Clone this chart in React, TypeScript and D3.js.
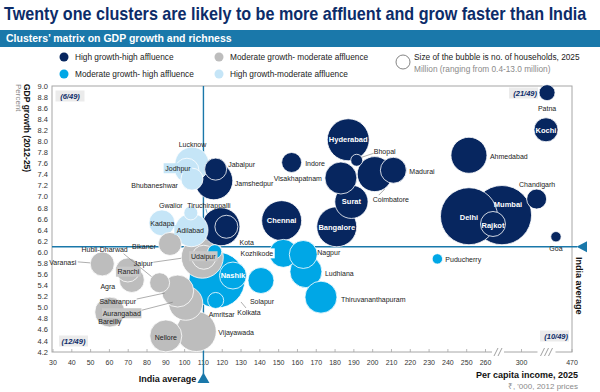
import React, { useLayoutEffect, useRef, useState } from "react";
import * as d3 from "d3";

// ---------------- DATA ----------------
const names = [
  // High growth-high affluence (21)
  "Patna", "Kochi", "Ahmedabad", "Chandigarh", "Delhi", "Mumbai", "Rajkot", "Goa",
  "Hyderabad", "Bhopal", "Visakhapatnam", "Coimbatore", "Madurai", "Surat", "Bangalore",
  "Chennai", "Indore", "Jabalpur", "Jamshedpur", "Tiruchirappalli", "",
  // Moderate growth-high affluence (10)
  "Kolkata", "Nashik", "Amritsar", "Solapur", "Kota", "Kozhikode", "Nagpur", "Ludhiana",
  "Thiruvananthapuram", "Puducherry",
  // High growth-moderate affluence (6)
  "Lucknow", "Jodhpur", "Bhubaneshwar", "Gwalior", "Kadapa", "Adilabad",
  // Moderate growth-moderate affluence (12)
  "Varanasi", "Hubli-Dharwad", "Bikaner", "Jaipur", "Udaipur", "Ranchi", "Agra",
  "Saharanpur", "Aurangabad", "Bareilly", "Nellore", "Vijayawada",
];

const segment = [
  ...Array(21).fill("HH"),
  ...Array(10).fill("MH"),
  ...Array(6).fill("HM"),
  ...Array(12).fill("MM"),
];

// Per capita income 2025, Rs '000 (2012 prices)
const income = [
  386, 382.5, 251.2, 351, 251.2, 278.3, 268.3, 416,
  187, 191.5, 183.1, 201.1, 211, 188.7, 180.9,
  151.6, 156.9, 116.5, 115.5, 119.3, 122.2,
  117.2, 125.7, 116.5, 140.6, 116, 152.5, 163.1, 164.5, 172.5, 234.4,
  103.9, 101.2, 103.9, 103.3, 87.9, 103.6,
  56.2, 86.7, 92.2, 109.4, 110.2, 69.8, 71.9, 96.3, 100.6, 60.2, 90, 106.2,
];

// GDP growth 2012-25, percent
const growth = [
  8.88, 8.21, 7.75, 6.96, 6.65, 6.67, 6.51, 6.28,
  8.03, 7.66, 7.34, 7.41, 7.48, 6.91, 6.46,
  6.57, 7.62, 7.5, 7.29, 6.46, 6.46,
  5.5, 5.58, 5.13, 5.49, 6.01, 5.98, 5.96, 5.65, 5.19, 5.88,
  7.59, 7.48, 7.32, 6.71, 6.53, 6.4,
  5.79, 5.45, 6.15, 5.91, 5.91, 5.68, 5.5, 5.3, 5.08, 4.92, 4.49, 4.57,
];

// Households 2025, million
const households = [
  0.95, 2.14, 4.81, 1.48, 12.05, 13.0, 2.32, 0.4,
  6.54, 0.53, 3.8, 4.54, 2.5, 4.1, 5.93,
  5.93, 1.48, 1.8, 5.36, 5.36, 1.96,
  11.6, 2.7, 0.95, 2.5, 0.73, 2.9, 2.9, 3.8, 3.8, 0.4,
  4.3, 2.14, 1.8, 0.73, 2.5, 4.1,
  2.14, 1.48, 1.96, 6.54, 2.14, 2.14, 2.32, 3.8, 4.3, 3.34, 3.8, 5.93,
];

const indiaIncome = 110;
const indiaGrowth = 6.1;

const xTicks = [30, 40, 50, 60, 70, 80, 90, 100, 110, 120, 130, 140, 150, 160, 170, 180, 190, 200, 210, 220, 230, 240, 250, 260, 300, 470];
const yTicks = [4.2, 4.4, 4.6, 4.8, 5.0, 5.2, 5.4, 5.6, 5.8, 6.0, 6.2, 6.4, 6.6, 6.8, 7.0, 7.2, 7.4, 7.6, 7.8, 8.0, 8.2, 8.4, 8.6, 8.8, 9.0];

const segmentKeys = ["HH", "MM", "MH", "HM"];
const segmentLabels: Record<string, string> = {
  HH: "High growth-high affluence",
  MM: "Moderate growth- moderate affluence",
  MH: "Moderate growth- high affluence",
  HM: "High growth-moderate affluence",
};
const quadrantCounts = ["(6/49)", "(21/49)", "(12/49)", "(10/49)"];
const TITLE = "Twenty one clusters are likely to be more affluent and grow faster than India";

// ---------------- STYLE / LAYOUT ----------------
const COLORS: Record<string, string> = {
  HH: "#07265f",
  MH: "#00a7e6",
  HM: "#c5e5f7",
  MM: "#bdbdbd",
};
const NAVY = "#0c2c69";
const TEAL = "#1a78aa";
const FONT = "'Liberation Sans', Arial, sans-serif";

// label placement: [dx, dy, anchor, kind]
type LP = [number, number, string, string];
const labelPos: Record<string, LP> = {
  Patna: [0, 15.5, "middle", "t"],
  Kochi: [0, 0.5, "middle", "in"],
  Ahmedabad: [21, 1, "start", "t"],
  Chandigarh: [0.5, -15, "middle", "t"],
  Delhi: [0, 1, "middle", "in"],
  Mumbai: [6, -11, "middle", "in"],
  Rajkot: [0, 1, "middle", "in"],
  Goa: [0, 12, "middle", "t"],
  Hyderabad: [0, 0, "middle", "in"],
  Bhopal: [28, -9, "middle", "t"],
  Visakhapatnam: [-19, 1, "end", "t"],
  Coimbatore: [-2, 25.5, "start", "t"],
  Madurai: [16, 1, "start", "t"],
  Surat: [0, 0, "middle", "in"],
  Bangalore: [0, 1, "middle", "in"],
  Chennai: [0, 0, "middle", "in"],
  Indore: [13.5, 1, "start", "t"],
  Jabalpur: [12.5, -5, "start", "t"],
  Jamshedpur: [21, 3, "start", "t"],
  Tiruchirappalli: [-12, -21, "middle", "t"],
  Kolkata: [32, 33, "middle", "t"],
  Nashik: [0, 0, "middle", "in"],
  Amritsar: [6, 14.5, "middle", "t"],
  Solapur: [1, 21, "middle", "t"],
  Kota: [32, -9, "middle", "t"],
  Kozhikode: [-26.5, 0, "middle", "bgW"],
  Nagpur: [14, -2, "start", "t"],
  Ludhiana: [19, 1.5, "start", "t"],
  Thiruvananthapuram: [20, 2, "start", "t"],
  Puducherry: [8, 0.5, "start", "t"],
  Lucknow: [0.5, -20, "middle", "t"],
  Jodhpur: [-9, -2, "middle", "bgL"],
  Bhubaneshwar: [-14, 6, "end", "t"],
  Gwalior: [-20, -7, "middle", "t"],
  Kadapa: [0.5, 1, "middle", "t"],
  Adilabad: [-1, 0, "middle", "bgL"],
  Varanasi: [-26, -1.7, "end", "t"],
  "Hubli-Dharwad": [-55, -33, "middle", "t"],
  Bikaner: [-26, 3, "middle", "t"],
  Jaipur: [-59, 6, "middle", "t"],
  Udaipur: [-0.5, -1, "middle", "bgG"],
  Ranchi: [0.5, 1.7, "middle", "bgG"],
  Agra: [-24, 7, "middle", "t"],
  Saharanpur: [-60, 11, "middle", "t"],
  Aurangabad: [-64, 10, "middle", "bgG"],
  Bareilly: [0, 9, "middle", "t"],
  Nellore: [0, 1.5, "middle", "t"],
  Vijayawada: [22, 1.5, "start", "t"],
};

// leader lines relative to bubble centre: [x1, y1, x2, y2]
const leaders: Record<string, number[]> = {
  Bhopal: [5, -3, 17, -7],
  Coimbatore: [10, 15, 4, 21],
  Kolkata: [24, 22, 29, 28],
  Varanasi: [-24.5, -2, -12, -1],
  "Hubli-Dharwad": [-36, -29, -8, -6],
  Jaipur: [-49, 5, -21, 1],
  Saharanpur: [-41, 8, -13, 2],
  Aurangabad: [-44, 7, -13, -1],
  Tiruchirappalli: [-15, -18, -14, -14],
};

export default function App() {
  const W = 600;
  const H = 392;
  const L = 52, R = 572, T = 86, B = 352;

  const titleRef = useRef<SVGTextElement>(null);
  const [titleScale, setTitleScale] = useState(1);
  useLayoutEffect(() => {
    if (titleRef.current) {
      const len = titleRef.current.getComputedTextLength();
      if (len > 0) setTitleScale(Math.min(1, 583 / len));
    }
  }, []);

  const x = d3.scaleLinear().domain([30, 260, 300, 470]).range([53, 485.5, 521.5, 572]);
  const y = d3.scaleLinear().domain([4.2, 9.0]).range([B, T]);
  const r = d3.scaleSqrt().domain([0, 13]).range([0, 29.6]);

  const order = d3.range(names.length).sort((a, b) => households[b] - households[a]);

  const xi = x(indiaIncome);
  const yi = y(indiaGrowth);

  const labelFs = 7;

  return (
    <svg width={W} height={H} viewBox={`0 0 ${W} ${H}`}
      style={{ position: "absolute", left: 0, top: 0, background: "#fff" }}
      fontFamily={FONT}>
      {/* Title */}
      <g transform={`translate(4,20) scale(${titleScale},1)`}>
        <text ref={titleRef} x={0} y={0} fontSize={18} fontWeight="bold" fill={NAVY}>
          {TITLE}
        </text>
      </g>
      {/* Header bar */}
      <rect x={0} y={30} width={600} height={17} fill={TEAL} />
      <text x={6} y={42} fontSize={10.5} fontWeight="bold" fill="#fff">
        Clusters’ matrix on GDP growth and richness
      </text>

      {/* Legend */}
      {segmentKeys.map((k, i) => {
        const col = i % 2;
        const row = Math.floor(i / 2);
        const lx = col === 0 ? 64 : 219;
        const ly = row === 0 ? 57 : 74;
        return (
          <g key={k}>
            <circle cx={lx} cy={ly} r={4.5} fill={COLORS[k]} />
            <text x={lx + 11} y={ly} dy="0.35em" fontSize={8.3} fill="#222">{segmentLabels[k]}</text>
          </g>
        );
      })}
      <circle cx={403} cy={62} r={7} fill="#fff" stroke="#666" strokeWidth={0.8} />
      <text x={414} y={57} dy="0.35em" fontSize={8.3} fill="#222">Size of the bubble is no. of households, 2025</text>
      <text x={414} y={69} dy="0.35em" fontSize={8.3} fill="#8a8a8a">Million (ranging from 0.4-13.0 million)</text>

      {/* Y axis title */}
      <text transform={`translate(27,84) rotate(90)`} fontSize={8.5} fontWeight="bold" fill="#111" dy="0.35em">
        GDP growth (2012-25)
      </text>
      <text transform={`translate(19,84) rotate(90)`} fontSize={8} fill="#8a8a8a" dy="0.35em">
        Percent
      </text>

      {/* Frame */}
      <rect x={L} y={T} width={R - L} height={B - T} fill="none" stroke="#a6a6a6" strokeWidth={1} />

      {/* Y ticks */}
      {yTicks.map((v) => (
        <text key={v} x={48} y={y(v)} dy="0.35em" textAnchor="end" fontSize={7.5} fill="#333">
          {d3.format(".1f")(v)}
        </text>
      ))}

      {/* X ticks */}
      {xTicks.map((v) => (
        <g key={v}>
          <line x1={x(v)} x2={x(v)} y1={B} y2={B - 3} stroke="#a6a6a6" strokeWidth={0.8} />
          <text x={x(v)} y={B + 11} dy="0.35em" textAnchor="middle" fontSize={7} fill="#333">{v}</text>
        </g>
      ))}
      {/* axis breaks */}
      {[[498, 2], [546.5, 3]].map(([bx, n]) => (
        <g key={bx}>
          <rect x={bx - 3 * n} y={B - 2} width={6 * n} height={4} fill="#fff" />
          {d3.range(n).map((j) => {
            const cx = bx + (j - (n - 1) / 2) * 4;
            return <line key={j} x1={cx - 2} y1={B + 4} x2={cx + 2} y2={B - 4} stroke="#888" strokeWidth={0.8} />;
          })}
        </g>
      ))}

      {/* India average lines */}
      <line x1={L} x2={577} y1={yi} y2={yi} stroke={TEAL} strokeWidth={1.4} />
      <line x1={xi} x2={xi} y1={T} y2={374} stroke={TEAL} strokeWidth={1.4} />
      <path d={`M${xi},${372.5} L${xi + 6},${383} L${xi - 6},${383} Z`} fill={TEAL} />
      <path d={`M${576.5},${yi} L${587},${yi - 5.5} L${587},${yi + 5.5} Z`} fill={TEAL} />

      {/* Bubbles */}
      {order.map((i) => (
        <circle key={i} cx={x(income[i])} cy={y(growth[i])} r={r(households[i])}
          fill={COLORS[segment[i]]} stroke="#fff" strokeWidth={0.8} />
      ))}

      {/* Leader lines */}
      {names.map((n, i) => {
        const l = leaders[n];
        if (!l) return null;
        const cx = x(income[i]), cy = y(growth[i]);
        return <line key={"l" + i} x1={cx + l[0]} y1={cy + l[1]} x2={cx + l[2]} y2={cy + l[3]}
          stroke={n === "Tiruchirappalli" ? TEAL : "#777"} strokeWidth={0.6} />;
      })}

      {/* Labels */}
      {names.map((n, i) => {
        const p = labelPos[n];
        if (!n || !p) return null;
        const cx = x(income[i]) + p[0];
        const cy = y(growth[i]) + p[1];
        const kind = p[3];
        const inside = kind === "in";
        const fs = inside ? 7.5 : labelFs;
        const w = n.length * fs * 0.52 + 3;
        const x0 = p[2] === "middle" ? cx - w / 2 : p[2] === "end" ? cx - w + 1.5 : cx - 1.5;
        const bg = kind === "bgL" ? COLORS.HM : kind === "bgG" ? "#c8c8c8" : kind === "bgW" ? "#fff" : null;
        return (
          <g key={"t" + i}>
            {bg && <rect x={x0} y={cy - 5} width={w} height={10} fill={bg} />}
            <text x={cx} y={cy} dy="0.35em" textAnchor={p[2]} fontSize={fs}
              fontWeight={inside ? "bold" : "normal"} fill={inside ? "#fff" : "#222"}>
              {n}
            </text>
          </g>
        );
      })}

      {/* Quadrant counts */}
      {[
        [70, 96, "middle"],
        [537, 93, "end"],
        [73.5, 341, "middle"],
        [568, 336, "end"],
      ].map(([qx, qy, a], k) => {
        const w = 27;
        const x0 = a === "middle" ? (qx as number) - w / 2 : (qx as number) - w;
        return (
          <g key={"q" + k}>
            <rect x={x0 - 1} y={(qy as number) - 5.5} width={w + 2} height={11} fill="#ebebeb" />
            <text x={qx as number} y={qy as number} dy="0.35em" textAnchor={a as string} fontSize={7.5}
              fontWeight="bold" fontStyle="italic" fill={NAVY}>{quadrantCounts[k]}</text>
          </g>
        );
      })}

      {/* India average labels */}
      <text x={167.5} y={379} dy="0.35em" textAnchor="middle" fontSize={9} fontWeight="bold" fill="#111">India average</text>
      <text transform={`translate(579.5,257) rotate(90)`} dy="0.35em" fontSize={9} fontWeight="bold" fill="#111">India average</text>

      {/* X axis title */}
      <text x={578} y={375} dy="0.35em" textAnchor="end" fontSize={9} fontWeight="bold" fill="#111">Per capita income, 2025</text>
      <text x={578} y={386} dy="0.35em" textAnchor="end" fontSize={8} fill="#8a8a8a">₹, '000, 2012 prices</text>
    </svg>
  );
}
